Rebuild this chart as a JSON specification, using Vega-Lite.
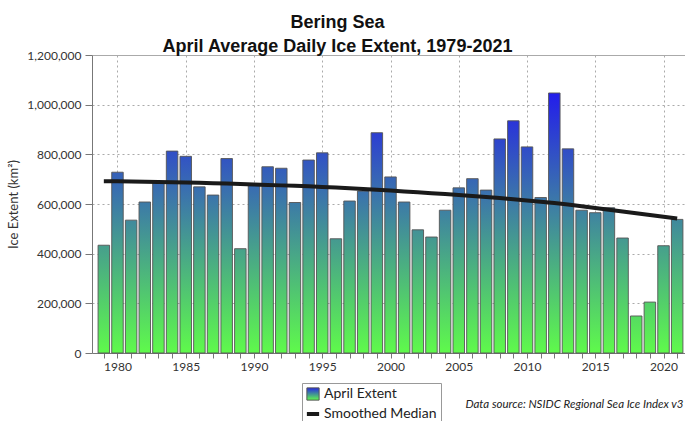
{
  "$schema": "https://vega.github.io/schema/vega-lite/v6.json",
  "width": 597,
  "height": 298,
  "autosize": {"type": "none"},
  "padding": {"left": 92, "top": 55, "right": 0, "bottom": 68},
  "background": "white",
  "title": {
    "text": ["Bering Sea", "April Average Daily Ice Extent, 1979-2021"],
    "font": "Liberation Sans",
    "fontSize": 18,
    "fontWeight": "bold",
    "color": "#111111",
    "lineHeight": 24,
    "anchor": "middle",
    "frame": "group",
    "dx": -53,
    "offset": -7
  },
  "config": {
    "view": {"stroke": null},
    "axis": {"labelFont": "Lato", "titleFont": "Lato"}
  },
  "data": {
    "values": [
      {"year": 1979, "extent": 434000, "median": 692000},
      {"year": 1980, "extent": 728000, "median": 692000},
      {"year": 1981, "extent": 535000, "median": 691000},
      {"year": 1982, "extent": 608000, "median": 690000},
      {"year": 1983, "extent": 688000, "median": 689000},
      {"year": 1984, "extent": 813000, "median": 688000},
      {"year": 1985, "extent": 792000, "median": 687000},
      {"year": 1986, "extent": 669000, "median": 686000},
      {"year": 1987, "extent": 636000, "median": 684000},
      {"year": 1988, "extent": 783000, "median": 683000},
      {"year": 1989, "extent": 420000, "median": 681000},
      {"year": 1990, "extent": 680000, "median": 679000},
      {"year": 1991, "extent": 750000, "median": 677000},
      {"year": 1992, "extent": 744000, "median": 675000},
      {"year": 1993, "extent": 606000, "median": 673000},
      {"year": 1994, "extent": 777000, "median": 671000},
      {"year": 1995, "extent": 806000, "median": 668000},
      {"year": 1996, "extent": 460000, "median": 666000},
      {"year": 1997, "extent": 612000, "median": 663000},
      {"year": 1998, "extent": 652000, "median": 660000},
      {"year": 1999, "extent": 887000, "median": 657000},
      {"year": 2000, "extent": 709000, "median": 654000},
      {"year": 2001, "extent": 608000, "median": 650000},
      {"year": 2002, "extent": 496000, "median": 647000},
      {"year": 2003, "extent": 467000, "median": 643000},
      {"year": 2004, "extent": 575000, "median": 640000},
      {"year": 2005, "extent": 665000, "median": 636000},
      {"year": 2006, "extent": 702000, "median": 632000},
      {"year": 2007, "extent": 656000, "median": 628000},
      {"year": 2008, "extent": 862000, "median": 624000},
      {"year": 2009, "extent": 935000, "median": 619000},
      {"year": 2010, "extent": 830000, "median": 614000},
      {"year": 2011, "extent": 626000, "median": 609000},
      {"year": 2012, "extent": 1047000, "median": 604000},
      {"year": 2013, "extent": 822000, "median": 598000},
      {"year": 2014, "extent": 575000, "median": 591000},
      {"year": 2015, "extent": 565000, "median": 584000},
      {"year": 2016, "extent": 585000, "median": 577000},
      {"year": 2017, "extent": 463000, "median": 570000},
      {"year": 2018, "extent": 149000, "median": 563000},
      {"year": 2019, "extent": 205000, "median": 556000},
      {"year": 2020, "extent": 432000, "median": 549000},
      {"year": 2021, "extent": 538000, "median": 542000}
    ]
  },
  "encoding": {
    "x": {
      "field": "year",
      "type": "quantitative",
      "scale": {"domain": [1978.5, 2021.5], "nice": false, "zero": false},
      "axis": {
        "values": [1979,1980,1981,1982,1983,1984,1985,1986,1987,1988,1989,1990,1991,1992,1993,1994,1995,1996,1997,1998,1999,2000,2001,2002,2003,2004,2005,2006,2007,2008,2009,2010,2011,2012,2013,2014,2015,2016,2017,2018,2019,2020,2021],
        "labelExpr": "round(datum.value) % 5 == 0 ? '' + round(datum.value) : ''",
        "labelOverlap": false,
        "labelFontSize": 12,
        "labelColor": "#333333",
        "labelPadding": 3,
        "labelFlush": false,
        "tickSize": 5,
        "tickColor": "#777777",
        "domainColor": "#777777",
        "grid": true,
        "gridColor": "#aaaaaa",
        "gridDash": [2, 3],
        "gridOpacity": {"condition": {"test": "round(datum.value) % 5 == 0", "value": 1}, "value": 0},
        "title": "Data source: NSIDC Regional Sea Ice Index v3",
        "titleFont": "Lato",
        "titleFontStyle": "italic",
        "titleFontWeight": "normal",
        "titleFontSize": 11.5,
        "titleColor": "#222222",
        "titleAnchor": "end",
        "titleAlign": "right",
        "titleX": 591,
        "titlePadding": 26
      }
    }
  },
  "layer": [
    {
      "mark": {
        "type": "bar",
        "width": 11.5,
        "strokeWidth": 0.9,
        "fill": {"expr": "datum.value == 'Smoothed Median' ? '#1a1a1a' : {gradient: 'linear', x1: 0, y1: 1, x2: 0, y2: 0, stops: [{offset: 0, color: 'rgb(95,250,75)'}, {offset: 1, color: 'rgb(' + round(95 - 60*(datum.extent || 1000000)/1050000) + ',' + round(250 - 222*(datum.extent || 1000000)/1050000) + ',' + round(75 + 160*(datum.extent || 1000000)/1050000) + ')'}]}"}
      },
      "encoding": {
        "y": {
          "field": "extent",
          "type": "quantitative",
          "scale": {"domain": [0, 1200000], "nice": false},
          "axis": {
            "values": [0,100000,200000,300000,400000,500000,600000,700000,800000,900000,1000000,1100000,1200000],
            "labelExpr": "datum.value % 200000 == 0 ? format(datum.value, ',d') : ''",
            "labelOverlap": false,
            "labelFontSize": 12,
            "labelColor": "#333333",
            "labelPadding": 4,
            "tickColor": "#777777",
            "tickSize": {"condition": {"test": "datum.value % 200000 == 0", "value": 7}, "value": 4},
            "domainColor": "#777777",
            "grid": true,
            "gridColor": "#aaaaaa",
            "gridDash": {"condition": {"test": "datum.value == 1200000", "value": []}, "value": [2, 3]},
            "gridOpacity": {"condition": {"test": "datum.value % 200000 == 0 && datum.value > 0", "value": 1}, "value": 0},
            "title": "Ice Extent (km²)",
            "titleFontSize": 13,
            "titleFontWeight": "normal",
            "titleColor": "#333333",
            "titlePadding": 6
          }
        },
        "stroke": {
          "datum": "April Extent",
          "scale": {"domain": ["April Extent", "Smoothed Median"], "range": ["#555555", "#1a1a1a"]},
          "legend": {
            "orient": "none",
            "legendX": 210,
            "legendY": 328,
            "title": null,
            "strokeColor": "#999999",
            "padding": 4,
            "labelFont": "Lato",
            "labelFontSize": 14,
            "labelColor": "#222222",
            "symbolSize": 150,
            "rowPadding": 3,
            "symbolType": {"expr": "datum.value == 'Smoothed Median' ? 'stroke' : 'square'"},
            "symbolStrokeWidth": {"expr": "datum.value == 'Smoothed Median' ? 4 : 1"}
          }
        }
      }
    },
    {
      "mark": {"type": "line", "strokeWidth": 4},
      "encoding": {
        "y": {"field": "median", "type": "quantitative"},
        "stroke": {"datum": "Smoothed Median"}
      }
    }
  ]
}
